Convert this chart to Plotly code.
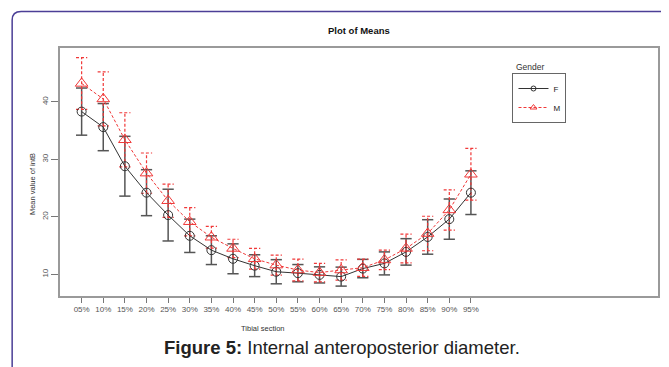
import plotly.graph_objects as go

# ---- data ----
sections = ["05%", "10%", "15%", "20%", "25%", "30%", "35%", "40%", "45%", "50%",
            "55%", "60%", "65%", "70%", "75%", "80%", "85%", "90%", "95%"]
f_mean = [38.3, 35.6, 28.8, 24.2, 20.3, 16.7, 14.2, 12.7, 11.5, 10.45,
          10.2, 9.9, 9.6, 11.0, 11.9, 13.9, 16.5, 19.6, 24.2]
f_half = [4.1, 4.1, 5.2, 4.0, 4.5, 2.9, 2.5, 2.6, 1.9, 2.1,
          1.5, 1.4, 1.65, 1.6, 2.0, 2.3, 3.0, 3.5, 3.8]
m_mean = [43.2, 40.5, 33.4, 27.6, 22.8, 19.15, 16.45, 14.5, 12.7, 11.6,
          10.75, 10.3, 10.75, 11.15, 12.5, 14.5, 17.1, 21.2, 27.4]
m_half = [4.5, 4.7, 4.7, 3.5, 2.9, 2.45, 1.9, 1.6, 1.8, 1.75,
          1.9, 1.6, 1.75, 1.5, 1.7, 2.5, 3.0, 3.5, 4.5]
y_ticks = [10, 20, 30, 40]

xs = list(range(len(sections)))
FONT = "Liberation Sans, Arial, sans-serif"
RED = "#f03838"
CAP = 0.26

# page body has an 8px margin: figure coordinates = screen coordinates - 8
OFF = 8
W, H = 669 - OFF, 367 - OFF
L, R, T, B = 60 - OFF, 660 - OFF, 48 - OFF, 296 - OFF

def px(x):
    return (x - OFF - L) / (R - L)
def py(y):
    return (B - (y - OFF)) / (B - T)

def bar_segments(means, halves):
    sx, sy, cx, cy = [], [], [], []
    for i, (m, h) in enumerate(zip(means, halves)):
        sx += [i, i, None]
        sy += [m - h, m + h, None]
        for v in (m - h, m + h):
            cx += [i - CAP, i + CAP, None]
            cy += [v, v, None]
    return sx, sy, cx, cy

fig = go.Figure()

sx, sy, cx, cy = bar_segments(f_mean, f_half)
fig.add_trace(go.Scatter(x=sx, y=sy, mode="lines", line=dict(color="#555555", width=1.5),
                         showlegend=False, hoverinfo="skip"))
fig.add_trace(go.Scatter(x=cx, y=cy, mode="lines", line=dict(color="#555555", width=1.5),
                         showlegend=False, hoverinfo="skip"))
sx, sy, cx, cy = bar_segments(m_mean, m_half)
fig.add_trace(go.Scatter(x=sx, y=sy, mode="lines", line=dict(color=RED, width=1.2, dash="3px,2px"),
                         showlegend=False, hoverinfo="skip"))
fig.add_trace(go.Scatter(x=cx, y=cy, mode="lines", line=dict(color=RED, width=1.2, dash="3px,2px"),
                         showlegend=False, hoverinfo="skip"))

fig.add_trace(go.Scatter(x=xs, y=f_mean, mode="lines+markers", name="F", showlegend=False,
                         line=dict(color="#333333", width=1),
                         marker=dict(symbol="circle-open", size=9, color="#333333",
                                     line=dict(width=1))))
fig.add_trace(go.Scatter(x=xs, y=m_mean, mode="lines+markers", name="M", showlegend=False,
                         line=dict(color=RED, width=1, dash="3px,2px"),
                         marker=dict(symbol="triangle-up-open", size=11, color=RED,
                                     line=dict(width=1))))

# legend entries (small symbols, as in the original key)
fig.add_trace(go.Scatter(x=[None], y=[None], mode="lines+markers", name="F",
                         line=dict(color="#333333", width=1),
                         marker=dict(symbol="circle-open", size=5, color="#333333")))
fig.add_trace(go.Scatter(x=[None], y=[None], mode="lines+markers", name="M",
                         line=dict(color=RED, width=1, dash="3px,2px"),
                         marker=dict(symbol="triangle-up-open", size=6, color=RED)))

frame = "M {x0},{yb} L {x0},{yr} Q {x0},{yt} {xr},{yt} L {x1},{yt}".format(
    x0=px(12), yb=py(370), yr=py(20), yt=py(11.5), xr=px(21), x1=px(672))

def ann(text, x, y, size, color="#333333", **kw):
    d = dict(text=text, x=px(x), y=py(y), xref="paper", yref="paper", showarrow=False,
             xanchor="center", yanchor="middle", font=dict(size=size, color=color, family=FONT))
    d.update(kw)
    return d

fig.update_layout(
    width=W, height=H,
    margin=dict(l=L, r=W - R, t=T, b=H - B),
    paper_bgcolor="white", plot_bgcolor="white",
    font=dict(family=FONT, color="#444444"),
    showlegend=True,
    legend=dict(x=px(514), y=py(73), xanchor="left", yanchor="top",
                bordercolor="#666666", borderwidth=1, bgcolor="white",
                font=dict(size=8, color="#222222"), tracegroupgap=0),
    xaxis=dict(range=[-1.0, 26.65], tickmode="array", tickvals=xs, ticktext=sections,
               showgrid=False, zeroline=False, showline=True, mirror=True,
               linecolor="#9a9a9a", linewidth=1.5, ticks="outside", ticklen=5,
               tickcolor="#777777", tickfont=dict(size=8, color="#555555")),
    yaxis=dict(range=[6.23, 49.36], tickmode="array", tickvals=y_ticks,
               showgrid=False, zeroline=False, showline=True, mirror=True,
               linecolor="#9a9a9a", linewidth=1.5, ticks="outside", ticklen=7,
               tickcolor="#777777", tickangle=-90, tickfont=dict(size=8, color="#555555")),
    shapes=[dict(type="path", xref="paper", yref="paper", path=frame,
                 line=dict(color="#4b3f96", width=1.5))],
    annotations=[
        ann("<b>Plot of Means</b>", 359.5, 30, 9.5, "#111111"),
        ann("Tibial section", 264, 328, 7.5),
        ann("Mean value of intB", 32, 184, 7.5, textangle=-90),
        ann("Gender", 516, 67, 8.5, xanchor="left"),
        ann("<b>Figure 5:</b> Internal anteroposterior diameter.", 343, 347, 18.5, "#222222"),
    ],
)

fig.write_html("out.html")
